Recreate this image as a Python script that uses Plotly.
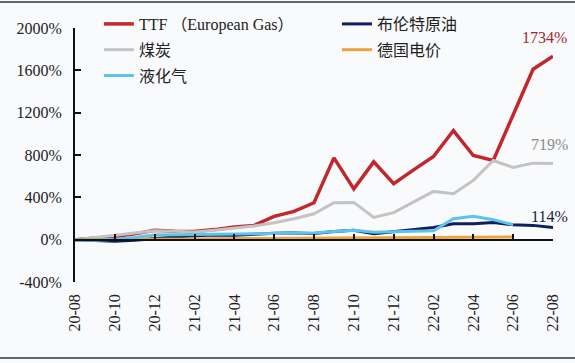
import plotly.graph_objects as go

months = ["20-08","20-09","20-10","20-11","20-12","21-01","21-02","21-03","21-04","21-05",
          "21-06","21-07","21-08","21-09","21-10","21-11","21-12","22-01","22-02","22-03",
          "22-04","22-05","22-06","22-07","22-08"]
ttf = [0, 15, 30, 55, 88, 80, 78, 95, 120, 135, 220, 267, 349, 773, 480, 735, 528, 660, 786, 1031, 795, 748, 1180, 1610, 1734]
coal = [0, 20, 40, 60, 85, 80, 72, 90, 110, 130, 160, 198, 245, 349, 352, 210, 255, 355, 456, 434, 560, 748, 682, 723, 719]
brent = [0, -8, -15, -5, 12, 25, 38, 45, 42, 52, 60, 62, 58, 78, 88, 57, 75, 95, 116, 150, 150, 163, 141, 135, 114]
lng = [0, -5, 5, 20, 45, 48, 45, 50, 55, 55, 58, 60, 62, 78, 88, 69, 75, 80, 85, 198, 220, 189, 141]
power = [0, 0, 2, 4, 6, 6, 7, 8, 9, 10, 11, 12, 13, 14, 15, 16, 18, 20, 21, 22, 24, 25, 25]
y_ticks = [-400, 0, 400, 800, 1200, 1600, 2000]
x_ticks = months[::2]

FONT = "Liberation Serif, 'Noto Sans CJK SC', serif"
C_TTF = "#c0282d"
C_COAL = "#c3c3c3"
C_BRENT = "#0f1f5e"
C_LNG = "#5cc3ea"
C_POWER = "#eaa43c"

# pixel geometry: plot area x 75..553, y 28..282 ; paper y from 10..282
T, B = 10, 81
PH = 363 - T - B
DOM_TOP = (282 - 28) / PH
LEG_TOP = 1.0 + 3 / PH

fig = go.Figure()
fig.add_trace(go.Scatter(x=months, y=ttf, mode="lines", name="TTF （European Gas）",
                         line=dict(color=C_TTF, width=3.5), legend="legend", legendgroup="a"))
fig.add_trace(go.Scatter(x=months, y=coal, mode="lines", name="煤炭",
                         line=dict(color=C_COAL, width=3), legend="legend", legendgroup="b"))
fig.add_trace(go.Scatter(x=months, y=brent, mode="lines", name="布伦特原油",
                         line=dict(color=C_BRENT, width=3), legend="legend2", legendgroup="d"))
fig.add_trace(go.Scatter(x=months[:len(power)], y=power, mode="lines", name="德国电价",
                         line=dict(color=C_POWER, width=3), legend="legend2", legendgroup="e"))
fig.add_trace(go.Scatter(x=months[:len(lng)], y=lng, mode="lines", name="液化气",
                         line=dict(color=C_LNG, width=3), legend="legend", legendgroup="c"))

fig.update_layout(
    width=575, height=363,
    margin=dict(l=75, r=22, t=T, b=B, autoexpand=False),
    paper_bgcolor="#f9fafc", plot_bgcolor="#f9fafc",
    font=dict(family=FONT, size=16, color="#222"),
    showlegend=True,
    legend=dict(x=0.05, y=LEG_TOP, xanchor="left", yanchor="top", bgcolor="rgba(0,0,0,0)",
                font=dict(size=16, color="#222"), tracegroupgap=2, traceorder="grouped"),
    legend2=dict(x=0.548, y=LEG_TOP, xanchor="left", yanchor="top", bgcolor="rgba(0,0,0,0)",
                 font=dict(size=16, color="#222"), tracegroupgap=2, traceorder="grouped"),
    xaxis=dict(type="category", categoryarray=months, range=[0, 24], tickvals=x_ticks,
               tickangle=-90, showline=False, ticks="", showgrid=False, zeroline=False,
               ticklabelstandoff=8, tickfont=dict(size=16, color="#222"), automargin=False),
    xaxis2=dict(type="category", categoryarray=months, range=[0, 24], tickvals=x_ticks,
                overlaying="x", anchor="free", position=DOM_TOP * 400 / 2400, side="bottom",
                showline=True, linecolor="#111", linewidth=1.5, ticks="inside", ticklen=5,
                tickwidth=1.5, tickcolor="#111", showticklabels=False, showgrid=False,
                zeroline=False, automargin=False),
    yaxis=dict(domain=[0, DOM_TOP], range=[-400, 2000], tickvals=y_ticks,
               ticktext=[f"{v}%" for v in y_ticks],
               showline=True, linecolor="#111", linewidth=2, ticks="inside", ticklen=6,
               tickwidth=2, tickcolor="#111", showgrid=False, zeroline=False,
               ticklabelstandoff=8, tickfont=dict(size=16, color="#222"), automargin=False),
)

# invisible trace to anchor xaxis2
fig.add_trace(go.Scatter(x=[months[0]], y=[0], xaxis="x2", yaxis="y", mode="lines",
                         showlegend=False, hoverinfo="skip", line=dict(width=0)))

fig.add_annotation(text="1734%", xref="paper", x=(544 - 75) / 478, xanchor="center",
                   yref="y", y=1915, showarrow=False, font=dict(size=16, color="#9e2a2f"))
fig.add_annotation(text="719%", xref="paper", x=(549 - 75) / 478, xanchor="center",
                   yref="y", y=896, showarrow=False, font=dict(size=16, color="#8a8a8a"))
fig.add_annotation(text="114%", xref="paper", x=(549 - 75) / 478, xanchor="center",
                   yref="y", y=217, showarrow=False, font=dict(size=16, color="#1a2340"))

# screenshot frame lines (top and bottom)
for ypx in [2, 358]:
    yp = (282 - ypx) / PH
    fig.add_shape(type="line", xref="paper", yref="paper", x0=-75/478, x1=500/478,
                  y0=yp, y1=yp, line=dict(color="#333", width=1.5))

fig.write_html("out.html", config={"displayModeBar": False},
               post_script="document.body.style.margin='0px';document.body.style.overflow='hidden';")
